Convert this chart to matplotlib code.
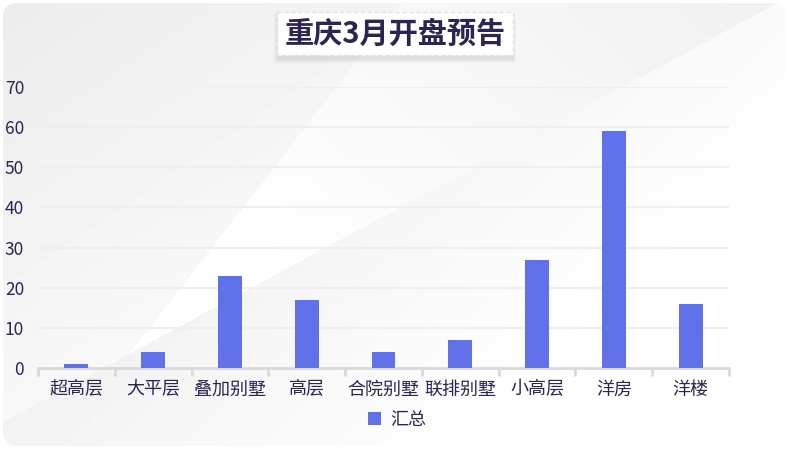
import matplotlib.pyplot as plt
import numpy as np
from matplotlib.patches import FancyBboxPatch, Rectangle

plt.rcParams['font.family'] = ['Noto Sans CJK SC', 'DejaVu Sans']

# data
categories = ['超高层', '大平层', '叠加别墅', '高层', '合院别墅', '联排别墅', '小高层', '洋房', '洋楼']
values = [1, 4, 23, 17, 4, 7, 27, 59, 16]
series_name = '汇总'
title = '重庆3月开盘预告'
y_ticks = [0, 10, 20, 30, 40, 50, 60, 70]

W, H = 791, 451
fig = plt.figure(figsize=(W / 100, H / 100), dpi=100)
fig.patch.set_facecolor('white')

# background card with soft diagonal gray shapes
bg = fig.add_axes([0, 0, 1, 1])
bg.set_xlim(0, W)
bg.set_ylim(H, 0)
bg.axis('off')
xx, yy = np.meshgrid(np.arange(W), np.arange(H))
f1 = xx / 403 + yy / 520 - 1
f2 = xx / 782 + yy / 423 - 1
img = np.ones((H, W))
top_left = f1 < 0
img[top_left] = (0.925 + 0.05 * (yy / H) + 0.03 * (xx / 400))[top_left]
band = (f1 >= 0) & (f2 < 0)
img[band] = (1.0 - 0.07 * np.clip((xx / W) * 0.8 + (1 - yy / H) * 0.5 - 0.45, 0, 1))[band]
lower = f2 >= 0
img[lower] = (0.935 + 0.065 * np.clip(xx / 650 + (yy - 300) / 600, 0, 1))[lower]
card = FancyBboxPatch((3, 3), W - 8, H - 8, boxstyle='round,pad=0,rounding_size=14',
                      transform=bg.transData, facecolor='none', edgecolor='none')
bg.add_patch(card)
im = bg.imshow(img, cmap='gray', vmin=0, vmax=1, extent=(0, W, H, 0), aspect='auto')
im.set_clip_path(card)

# title box with soft shadow
for i in range(4):
    bg.add_patch(Rectangle((277 - i, 14 - i + 3), 236 + 2 * i, 43 + 2 * i,
                           facecolor='black', alpha=0.025, edgecolor='none'))
bg.add_patch(Rectangle((277, 12), 236, 43, facecolor='white', edgecolor='#e2e2e2',
                       linestyle=(0, (3, 2)), linewidth=1))
bg.text(395, 34, title, ha='center', va='center', fontsize=21, fontweight='bold',
        color='#2a2650')

ax = fig.add_axes([38 / W, 1 - 368 / H, (729 - 38) / W, (368 - 87) / H])
ax.patch.set_alpha(0)
x = np.arange(len(categories))
ax.bar(x, values, width=0.31, color='#6171e9', label=series_name, zorder=3)
ax.set_xlim(-0.5, len(categories) - 0.5)
ax.set_ylim(0, 70)
ax.set_yticks(y_ticks)
ax.set_xticks(x)
ax.set_xticklabels(categories)
ax.set_xticks(np.arange(-0.5, len(categories), 1), minor=True)
ax.tick_params(axis='x', which='major', length=0, pad=9, labelsize=13, labelcolor='#2a2650')
ax.tick_params(axis='x', which='minor', length=6, width=2, color='#d9d9d9', direction='out')
ax.tick_params(axis='y', length=0, pad=10, labelsize=12.5, labelcolor='#2a2650')
for s in ['top', 'right', 'left']:
    ax.spines[s].set_visible(False)
ax.spines['bottom'].set_color('#d9d9d9')
ax.spines['bottom'].set_linewidth(2)
for t in y_ticks[1:]:
    ax.axhline(t, color='#efefef', linewidth=1.5, zorder=1)

leg = fig.legend(*ax.get_legend_handles_labels(), loc='center',
                 bbox_to_anchor=(397 / W, 1 - 420 / H),
                 frameon=False, fontsize=13, handlelength=0.75, handleheight=0.75,
                 handletextpad=0.5)
for t in leg.get_texts():
    t.set_color('#2a2650')

fig.savefig('out.png', dpi=100)
